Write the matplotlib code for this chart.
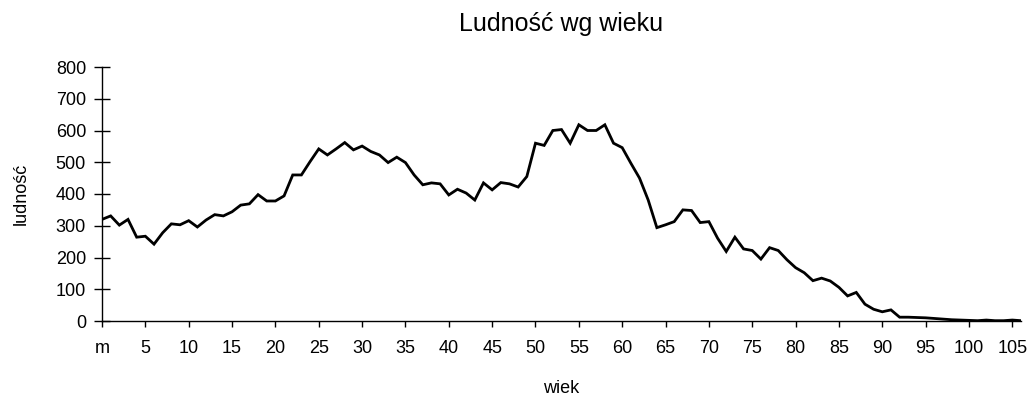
import matplotlib
matplotlib.use("Agg")
import matplotlib.pyplot as plt

# population by age (0 = "m", under one year)
ages = list(range(107))
population = [
    320, 331, 302, 320, 264, 267, 242, 278, 306, 303,
    316, 296, 318, 335, 331, 344, 365, 369, 398, 378,
    378, 394, 460, 460, 502, 542, 523, 542, 562, 539,
    551, 534, 523, 499, 516, 499, 460, 429, 435, 432,
    397, 415, 403, 381, 435, 413, 436, 432, 422, 455,
    560, 553, 600, 603, 560, 618, 600, 600, 618, 560,
    546, 497, 450, 381, 294, 303, 313, 350, 348, 310,
    313, 261, 219, 264, 227, 222, 195, 231, 222, 193,
    168, 152, 127, 135, 126, 106, 79, 90, 53, 37,
    29, 35, 12, 12, 11, 10, 8, 6, 4, 3,
    2, 1, 3, 1, 1, 3, 1,
]
x_ticks = [0, 5, 10, 15, 20, 25, 30, 35, 40, 45, 50,
           55, 60, 65, 70, 75, 80, 85, 90, 95, 100, 105]
x_tick_labels = ["m", "5", "10", "15", "20", "25", "30", "35", "40", "45", "50",
                 "55", "60", "65", "70", "75", "80", "85", "90", "95", "100", "105"]
y_ticks = [0, 100, 200, 300, 400, 500, 600, 700, 800]

plt.rcParams['font.family'] = ['Liberation Sans', 'DejaVu Sans']

fig = plt.figure(figsize=(10.33, 4.01), dpi=100)
ax = fig.add_axes([102 / 1033, 1 - 321 / 401, (1021 - 102) / 1033, (321 - 67) / 401])

ax.plot(ages, population, color='black', linewidth=2, solid_joinstyle='miter')

ax.set_xlim(0, 106)
ax.set_ylim(0, 800)
ax.set_xticks(x_ticks)
ax.set_xticklabels(x_tick_labels)
ax.set_yticks(y_ticks)

for side in ['top', 'right']:
    ax.spines[side].set_visible(False)
for side in ['left', 'bottom']:
    ax.spines[side].set_linewidth(1)
    ax.spines[side].set_color('black')

ax.tick_params(axis='x', direction='out', length=4.5, width=1, pad=9, labelsize=13)
ax.tick_params(axis='y', direction='inout', length=11, width=1, pad=6, labelsize=13)

ax.set_title('Ludność wg wieku', fontsize=18, pad=26)
ax.set_xlabel('wiek', fontsize=13, labelpad=17)
ax.set_ylabel('ludność', fontsize=13, labelpad=19)

fig.savefig('out.png', dpi=100, facecolor='white')
